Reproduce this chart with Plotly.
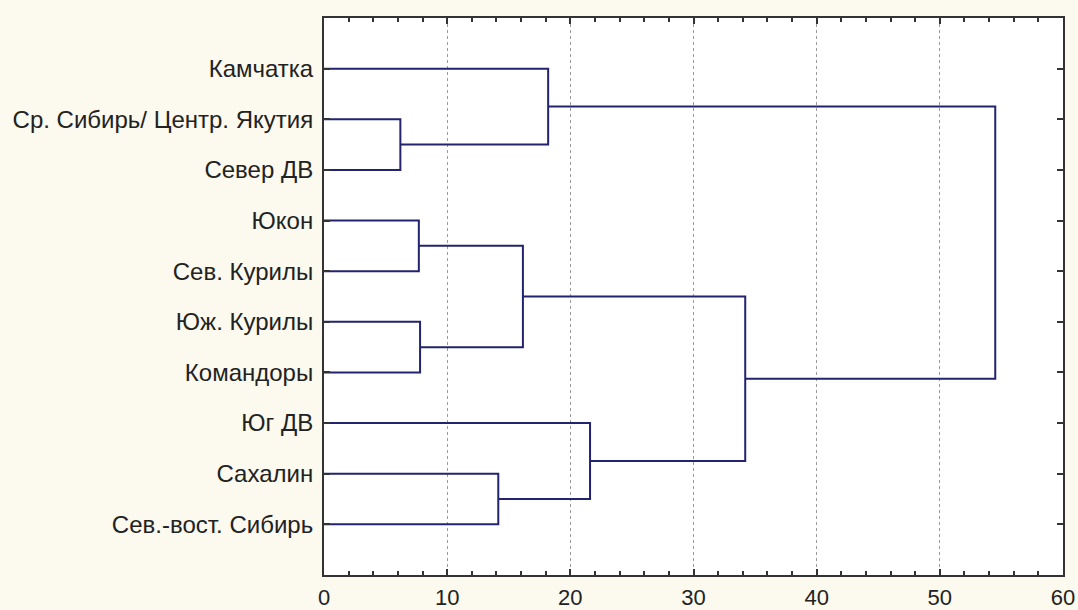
import plotly.graph_objects as go

# Leaves from top to bottom
leaves = ["Камчатка", "Ср. Сибирь/ Центр. Якутия", "Север ДВ", "Юкон", "Сев. Курилы",
          "Юж. Курилы", "Командоры", "Юг ДВ", "Сахалин", "Сев.-вост. Сибирь"]

# Merges: (left child, right child, linkage distance); children are leaf names or merge ids "M#"
merge_a = ["Ср. Сибирь/ Центр. Якутия", "Камчатка", "Юкон", "Юж. Курилы", "M2",
           "Сахалин", "Юг ДВ", "M4", "M1"]
merge_b = ["Север ДВ", "M0", "Сев. Курилы", "Командоры", "M3",
           "Сев.-вост. Сибирь", "M5", "M6", "M7"]
merge_h = [6.2, 18.2, 7.7, 7.8, 16.15, 14.15, 21.6, 34.2, 54.5]

x_ticks = [0, 10, 20, 30, 40, 50, 60]

pos = {name: (0.0, i + 1) for i, name in enumerate(leaves)}
line_color = "#23236e"

fig = go.Figure()
for k, (a, b, h) in enumerate(zip(merge_a, merge_b, merge_h)):
    xa, ya = pos[a]
    xb, yb = pos[b]
    fig.add_trace(go.Scatter(
        x=[xa, h, h, xb], y=[ya, ya, yb, yb], mode="lines",
        line=dict(color=line_color, width=2), hoverinfo="skip", showlegend=False))
    pos["M%d" % k] = (h, (ya + yb) / 2)

fam = "Liberation Sans, Arial, sans-serif"

fig.update_layout(
    width=1078, height=610,
    margin=dict(l=324, r=15, t=18, b=35),
    paper_bgcolor="#fcf9ee", plot_bgcolor="#ffffff",
    font=dict(family=fam, size=22, color="#222222"),
    showlegend=False,
    xaxis=dict(
        range=[0, 60], tickvals=x_ticks, ticktext=[str(v) for v in x_ticks],
        tickfont=dict(family=fam, size=22, color="#222222"),
        showgrid=True, gridcolor="#9a9a9a", griddash="dot", gridwidth=1,
        zeroline=False, showline=True, linecolor="#333333", linewidth=2, mirror="ticks",
        ticks="inside", ticklen=6, tickwidth=2, tickcolor="#333333",
        minor=dict(dtick=2, ticks="inside", ticklen=4, tickwidth=2, tickcolor="#333333", showgrid=False),
        ticklabelstandoff=2, automargin=False,
    ),
    yaxis=dict(
        range=[11, 0], tickvals=list(range(1, len(leaves) + 1)), ticktext=leaves,
        tickfont=dict(family=fam, size=24, color="#222222"),
        showgrid=False, zeroline=False, showline=True, linecolor="#333333", linewidth=2,
        mirror="ticks", ticks="inside", ticklen=6, tickwidth=2, tickcolor="#333333",
        ticklabelstandoff=4, automargin=False,
    ),
)

fig.write_html("out.html")
